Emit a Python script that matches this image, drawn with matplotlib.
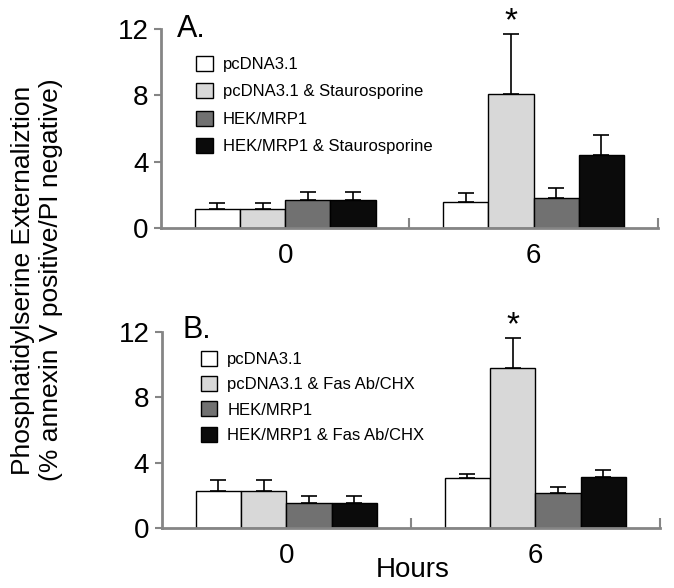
"""
Phosphatidylserine externalization (annexin V+/PI-) at 0 and 6 hours,
panel A: staurosporine, panel B: Fas Ab/CHX.
"""
import matplotlib
matplotlib.use("Agg")
import matplotlib.pyplot as plt
import numpy as np

plt.rcParams["font.family"] = ["Liberation Sans", "DejaVu Sans"]

HOURS = ["0", "6"]
COLORS = ["#ffffff", "#d8d8d8", "#717171", "#0b0b0b"]

# Panel A: staurosporine
LABELS_A = ["pcDNA3.1", "pcDNA3.1 & Staurosporine", "HEK/MRP1", "HEK/MRP1 & Staurosporine"]
MEANS_A = [[1.15, 1.6], [1.15, 8.05], [1.7, 1.83], [1.7, 4.38]]
ERRS_A = [[0.35, 0.5], [0.35, 3.65], [0.5, 0.57], [0.5, 1.22]]

# Panel B: Fas Ab/CHX
LABELS_B = ["pcDNA3.1", "pcDNA3.1 & Fas Ab/CHX", "HEK/MRP1", "HEK/MRP1 & Fas Ab/CHX"]
MEANS_B = [[2.25, 3.05], [2.25, 9.8], [1.53, 2.17], [1.53, 3.15]]
ERRS_B = [[0.7, 0.24], [0.7, 1.86], [0.43, 0.33], [0.43, 0.41]]

STAR_SERIES = 1  # series index marked with "*" at the 6 h group

SPINE = "#858585"
WIDTH = 0.182


def panel(ax, labels, means, errs, tag, tag_xy, leg_xy, leg_space):
    centers = np.arange(len(HOURS)) + 0.5
    n = len(labels)
    for i in range(n):
        xs = centers + (i - (n - 1) / 2) * WIDTH
        ax.bar(xs, means[i], WIDTH, color=COLORS[i], edgecolor="black",
               linewidth=1.0, label=labels[i], zorder=2)
        ax.errorbar(xs, means[i], yerr=[np.zeros(len(xs)), errs[i]], fmt="none",
                    ecolor="black", elinewidth=1.2, capsize=6, capthick=1.2, zorder=3)
    # significance mark
    xs = centers + (STAR_SERIES - (n - 1) / 2) * WIDTH
    top = means[STAR_SERIES][1] + errs[STAR_SERIES][1]
    ax.text(xs[1], top + 0.75, "*", ha="center", va="center", fontsize=24,
            clip_on=False)

    ax.set_xlim(0, 2)
    ax.set_ylim(0, 12)
    ax.set_yticks([0, 4, 8, 12])
    ax.tick_params(axis="y", direction="out", length=5, width=1.5, color=SPINE,
                   labelsize=20, pad=4)
    ax.set_xticks([1, 2])
    ax.set_xticklabels([])
    ax.tick_params(axis="x", which="major", direction="in", length=7, width=1.5,
                   color=SPINE)
    ax.set_xticks(centers, minor=True)
    ax.set_xticklabels(HOURS, minor=True)
    ax.tick_params(axis="x", which="minor", length=0, labelsize=20, pad=11)
    for side in ["top", "right"]:
        ax.spines[side].set_visible(False)
    for side in ["left", "bottom"]:
        ax.spines[side].set_color(SPINE)
        ax.spines[side].set_linewidth(2)
        ax.spines[side].set_zorder(4)

    ax.text(tag_xy[0], tag_xy[1], tag, transform=ax.transAxes, fontsize=22,
            va="baseline", ha="left")
    ax.legend(loc="upper left", bbox_to_anchor=leg_xy, frameon=False,
              fontsize=12, handlelength=1.0, handleheight=1.0,
              handletextpad=0.6, labelspacing=leg_space, borderpad=0,
              borderaxespad=0)


def main():
    fig = plt.figure(figsize=(6.74, 5.88), dpi=100)
    ax1 = fig.add_axes([0.239, 0.612, 0.737, 0.339])
    ax2 = fig.add_axes([0.240, 0.102, 0.739, 0.333])

    panel(ax1, LABELS_A, MEANS_A, ERRS_A, "A.", (0.032, 0.96), (0.07, 0.865), 0.68)
    panel(ax2, LABELS_B, MEANS_B, ERRS_B, "B.", (0.042, 0.97), (0.078, 0.905), 0.55)

    fig.text(0.055, 0.524,
             "Phosphatidylserine Externaliztion\n(% annexin V positive/PI negative)",
             rotation=90, ha="center", va="center", fontsize=19,
             linespacing=1.25)
    fig.text(0.612, 0.03, "Hours", ha="center", va="center", fontsize=20)

    fig.savefig("out.png", dpi=100)
    plt.close(fig)


if __name__ == "__main__":
    main()
